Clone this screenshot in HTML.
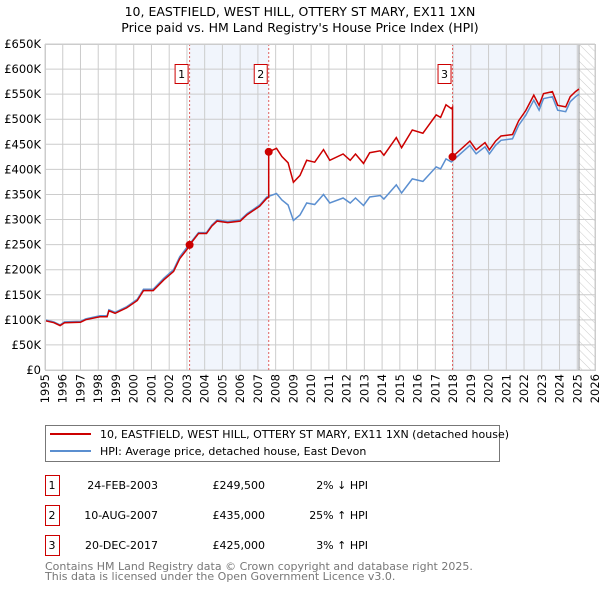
<!DOCTYPE html>
<html><head><meta charset="utf-8"><style>
body{margin:0;background:#fff;}
svg{display:block;font-family:"DejaVu Sans","Liberation Sans",sans-serif;}
</style></head><body>
<svg id="chart" width="600" height="590" viewBox="0 0 600 590">
<defs><pattern id="hatch" width="6" height="6" patternUnits="userSpaceOnUse" patternTransform="rotate(-45)"><line x1="0" y1="0" x2="0" y2="6" stroke="#ccc" stroke-width="1"/></pattern></defs>
<text x="300" y="16" text-anchor="middle" font-size="12.5" fill="#000">10, EASTFIELD, WEST HILL, OTTERY ST MARY, EX11 1XN</text>
<text x="300" y="32" text-anchor="middle" font-size="12.5" fill="#000">Price paid vs. HM Land Registry's House Price Index (HPI)</text>
<g id="plot"></g>
<g>
<rect x="45.5" y="425.5" width="454" height="36" fill="#fff" stroke="#777"/>
<line x1="50" y1="434" x2="91" y2="434" stroke="#cc0000" stroke-width="2"/>
<text x="100" y="438" font-size="11">10, EASTFIELD, WEST HILL, OTTERY ST MARY, EX11 1XN (detached house)</text>
<line x1="50" y1="451" x2="91" y2="451" stroke="#5b8fd0" stroke-width="2"/>
<text x="100" y="455" font-size="11">HPI: Average price, detached house, East Devon</text>
</g>
<g id="table" font-size="11"></g>
<text x="45" y="570" font-size="11" fill="#777">Contains HM Land Registry data © Crown copyright and database right 2025.</text>
<text x="45" y="580" font-size="11" fill="#777">This data is licensed under the Open Government Licence v3.0.</text>
</svg>
<script>
const hpiYears=[1995.0,1995.5,1995.85,1996.1,1997.0,1997.3,1998.1,1998.5,1998.6,1998.95,1999.6,2000.2,2000.55,2001.1,2001.7,2002.25,2002.6,2003.1,2003.65,2004.1,2004.4,2004.7,2005.3,2006.0,2006.4,2007.1,2007.5,2008.05,2008.35,2008.7,2009.0,2009.37,2009.75,2010.2,2010.7,2011.05,2011.8,2012.2,2012.5,2012.95,2013.3,2013.9,2014.1,2014.8,2015.1,2015.7,2016.3,2017.05,2017.3,2017.6,2017.9,2018.95,2019.3,2019.8,2020.05,2020.4,2020.7,2021.35,2021.7,2022.1,2022.55,2022.85,2023.1,2023.6,2023.9,2024.35,2024.6,2024.9,2025.1];
const hpiValues=[100,96,90,96,97,102,108,108,120,115,126,141,161,161,183,200,226,249,274,274,289,299,296,299,312,329,345,352,339,329,298,309,333,330,350,333,343,333,343,328,345,348,341,369,353,381,376,405,401,421,415,448,431,445,431,448,458,461,488,508,538,518,541,545,518,515,535,545,550];
const saleLabels=["1","2","3"];
const saleYears=[2003.15,2007.61,2017.97];
const salePrices=[249500,435000,425000];
const saleDates=["24-FEB-2003","10-AUG-2007","20-DEC-2017"];
const salePriceText=["£249,500","£435,000","£425,000"];
const saleHpiText=["2% ↓ HPI","25% ↑ HPI","3% ↑ HPI"];
const yTicks=[0,50,100,150,200,250,300,350,400,450,500,550,600,650];
const xTicks=[1995,1996,1997,1998,1999,2000,2001,2002,2003,2004,2005,2006,2007,2008,2009,2010,2011,2012,2013,2014,2015,2016,2017,2018,2019,2020,2021,2022,2023,2024,2025,2026];

const NS="http://www.w3.org/2000/svg";
const X0=45,X1=595,Y0=370,Y1=44;
const xs=y=>X0+(y-1995)/(2026-1995)*(X1-X0);
const ys=v=>Y0-v/650*(Y0-Y1);
const plot=document.getElementById('plot');
function mk(tag,attrs,parent){const e=document.createElementNS(NS,tag);for(const k in attrs)e.setAttribute(k,attrs[k]);(parent||plot).appendChild(e);return e;}
function hpiAt(t){for(let i=0;i<hpiYears.length-1;i++){if(t<=hpiYears[i+1]){const f=(t-hpiYears[i])/(hpiYears[i+1]-hpiYears[i]);return hpiValues[i]+f*(hpiValues[i+1]-hpiValues[i]);}}return hpiValues[hpiValues.length-1];}
const lastYear=hpiYears[hpiYears.length-1];
// shading
let r=mk('rect',{x:xs(saleYears[0]),y:Y1,width:xs(saleYears[1])-xs(saleYears[0]),height:Y0-Y1,fill:'#eef2fb',opacity:0.8});


r=mk('rect',{x:xs(saleYears[2]),y:Y1,width:xs(lastYear)-xs(saleYears[2]),height:Y0-Y1,fill:'#eef2fb',opacity:0.8});


r=mk('rect',{x:xs(lastYear),y:Y1,width:X1-xs(lastYear),height:Y0-Y1,fill:'url(#hatch)'});


// grid
yTicks.forEach(v=>{const l=mk('line',{x1:X0,x2:X1,y1:ys(v),y2:ys(v),stroke:'#ccc','stroke-width':1});


const t=mk('text',{x:X0-4,y:ys(v)+4,'text-anchor':'end','font-size':11.5});t.textContent=v===0?'£0':'£'+v+'K';

});
xTicks.forEach(y=>{const l=mk('line',{x1:xs(y),x2:xs(y),y1:Y1,y2:Y0,stroke:'#ccc','stroke-width':1});


const t=mk('text',{transform:`translate(${xs(y)+4},${Y0+4}) rotate(-90)`,'text-anchor':'end','font-size':11.5});t.textContent=y;

});
const edge=mk('line',{x1:xs(lastYear),x2:xs(lastYear),y1:Y1,y2:Y0,stroke:'#999','stroke-width':1});


// sale vlines
saleYears.forEach((s,i)=>{const l=mk('line',{x1:xs(s),x2:xs(s),y1:Y1,y2:Y0,stroke:'#e06060','stroke-width':1,'stroke-dasharray':'2,2'});


const b=mk('rect',{x:xs(s)-14.5,y:64.5,width:13,height:19,fill:'#fff',stroke:'#cc0000'});


const t=mk('text',{x:xs(s)-8,y:78,'text-anchor':'middle','font-size':11});t.textContent=saleLabels[i];

});
// HPI line
let d='';hpiYears.forEach((y,i)=>{d+=(i?'L':'M')+xs(y).toFixed(1)+','+ys(hpiValues[i]).toFixed(1);});
const hl=mk('path',{d:d,fill:'none',stroke:'#5b8fd0','stroke-width':1.5});


// property line: HPI indexed to each sale
const ratios=saleYears.map((s,i)=>salePrices[i]/1000/hpiAt(s));
function ratioAt(t){let rr=ratios[0]*0.99;for(let i=0;i<saleYears.length;i++)if(t>=saleYears[i])rr=ratios[i];return rr;}
const pts=[];
hpiYears.forEach((y,i)=>{pts.push([y,hpiValues[i]*ratioAt(y)]);});
saleYears.forEach((s,i)=>{pts.push([s-0.001,hpiAt(s)*ratioAt(s-0.002)]);pts.push([s,salePrices[i]/1000]);});
pts.sort((a,b)=>a[0]-b[0]);
d='';pts.forEach((p,i)=>{d+=(i?'L':'M')+xs(p[0]).toFixed(1)+','+ys(p[1]).toFixed(1);});
const pl=mk('path',{d:d,fill:'none',stroke:'#cc0000','stroke-width':1.5});


saleYears.forEach((s,i)=>{const c=mk('circle',{cx:xs(s),cy:ys(salePrices[i]/1000),r:4,fill:'#cc0000'});

});
const ax=mk('rect',{x:X0+0.5,y:Y1+0.5,width:X1-X0,height:Y0-Y1,fill:'none',stroke:'#ccc'});


// table
const tb=document.getElementById('table');
saleLabels.forEach((lab,i)=>{const y0=475+i*30;
const b=mk('rect',{x:45.5,y:y0+0.5,width:14,height:20,fill:'#fff',stroke:'#cc0000'},tb);


const cells=[[52,'middle',lab,'table-row-label'],[158,'end',saleDates[i],'table-date'],[265,'end',salePriceText[i],'table-price'],[368,'end',saleHpiText[i],'table-hpi-diff']];
cells.forEach(c=>{const t=mk('text',{x:c[0],y:y0+14,'text-anchor':c[1]},tb);t.textContent=c[2];

});});
</script>
</body></html>
